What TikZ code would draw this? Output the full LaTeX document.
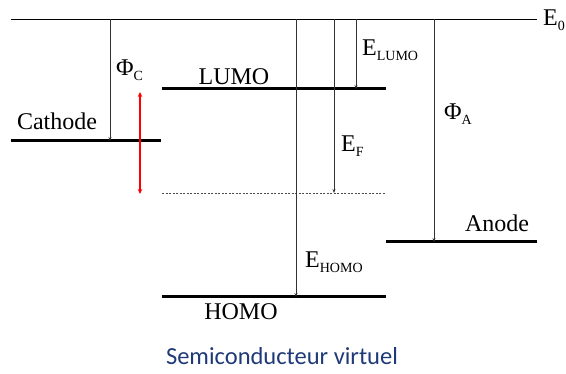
\documentclass[tikz,border=0pt]{standalone}
\usepackage{fontspec}
\setmainfont{Liberation Serif}
\newfontfamily\capfont{Carlito}
\usetikzlibrary{arrows.meta}
\definecolor{capblue}{HTML}{1F3A78}
\newcommand{\lsub}[1]{\raisebox{-0.45ex}{\fontsize{14}{15}\selectfont #1}}
\begin{document}
\begin{tikzpicture}[x=1pt,y=-1pt,
  level/.style={line width=3pt},
  thinline/.style={line width=0.8pt, draw=black!80},
  arr/.style={thinline,-{Stealth[length=4pt,width=3pt]}},
  lab/.style={font=\fontsize{24}{26}\selectfont, inner sep=0pt}]
\useasboundingbox (0,0) rectangle (566,374);
% E0 line
\coordinate (e0l) at (11,19);
\coordinate (e0r) at (537,19);
\draw[thinline, draw=black] (e0l) -- (e0r);
\node[lab, anchor=west] (E0) at (543,20) {E\lsub{0}};
% levels
\coordinate (cathL) at (11,141); \coordinate (cathR) at (161,141);
\draw[level] (cathL) -- (cathR);
\coordinate (lumoL) at (162,89); \coordinate (lumoR) at (386,89);
\draw[level] (lumoL) -- (lumoR);
\coordinate (homoL) at (162,297); \coordinate (homoR) at (386,297);
\draw[level] (homoL) -- (homoR);
\coordinate (anL) at (386,242); \coordinate (anR) at (537,242);
\draw[level] (anL) -- (anR);
\coordinate (efL) at (162,193); \coordinate (efR) at (386,193);
\draw[line width=0.5pt, draw=black!70, dash pattern=on 2pt off 1.5pt] (efL) -- (efR);
% arrows from E0
\coordinate (pcT) at (110,19); \coordinate (pcB) at (110,141);
\draw[arr] (pcT) -- (pcB);
\coordinate (ehT) at (296,19); \coordinate (ehB) at (296,297);
\draw[arr] (ehT) -- (ehB);
\coordinate (efT) at (334,19); \coordinate (efB) at (334,193);
\draw[arr] (efT) -- (efB);
\coordinate (elT) at (356,19); \coordinate (elB) at (356,89);
\draw[arr] (elT) -- (elB);
\coordinate (paT) at (434,19); \coordinate (paB) at (434,242);
\draw[arr] (paT) -- (paB);
% red double arrow
\coordinate (rT) at (140,92); \coordinate (rB) at (140,194);
\draw[red, line width=1.5pt, {Stealth[length=5pt,width=4.5pt]}-{Stealth[length=5pt,width=4.5pt]}] (rT) -- (rB);
% labels
\node[lab] (cath) at (57,121) {Cathode};
\node[lab] (lumo) at (234,77) {LUMO};
\node[lab] (homo) at (241,312) {HOMO};
\node[lab] (anode) at (497,223) {Anode};
\node[lab, anchor=west] (phic) at (116,70) {Φ\lsub{C}};
\node[lab, anchor=west] (phia) at (444,114) {Φ\lsub{A}};
\node[lab, anchor=west] (elumo) at (362,50) {E\lsub{LUMO}};
\node[lab, anchor=west] (ef) at (341,146) {E\lsub{F}};
\node[lab, anchor=west] (ehomo) at (305,262) {E\lsub{HOMO}};
\node[font=\capfont\fontsize{24.5}{26}\selectfont, text=capblue, inner sep=0pt] (cap) at (282,356) {Semiconducteur virtuel};
\end{tikzpicture}
\end{document}
